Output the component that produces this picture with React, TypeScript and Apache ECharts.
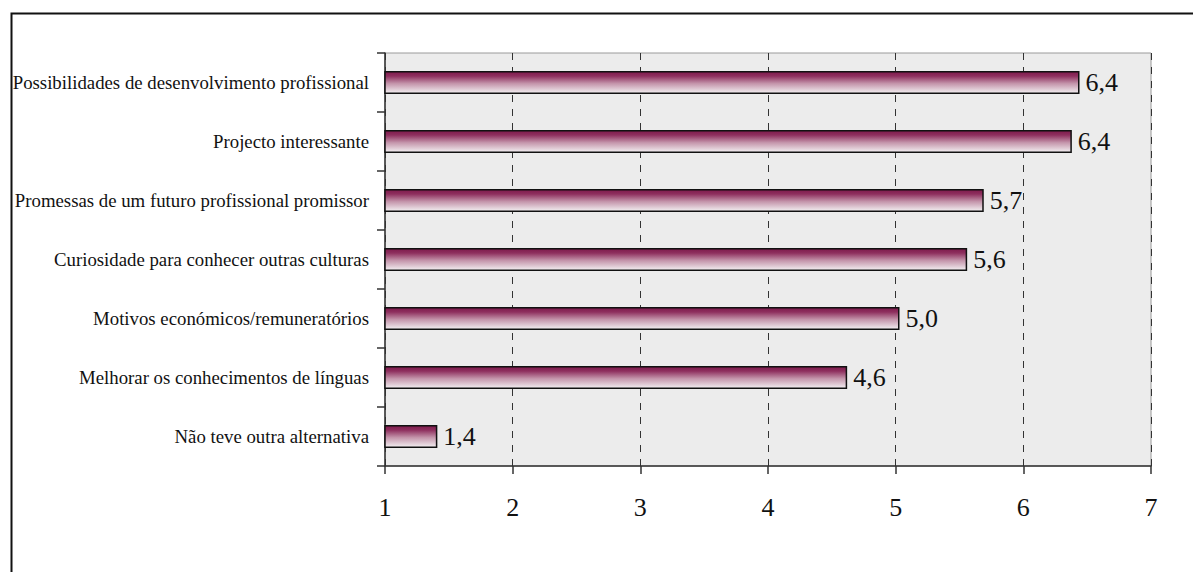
import React, { useEffect, useRef } from "react";
import * as echarts from "echarts";

// Motives for accepting the assignment, mean score on a 1–7 scale
const categories = [
  "Possibilidades de desenvolvimento profissional",
  "Projecto interessante",
  "Promessas de um futuro profissional promissor",
  "Curiosidade para conhecer outras culturas",
  "Motivos económicos/remuneratórios",
  "Melhorar os conhecimentos de línguas",
  "Não teve outra alternativa",
];
const scores = [6.44, 6.38, 5.69, 5.56, 5.03, 4.62, 1.41];
const axisTicks = [1, 2, 3, 4, 5, 6, 7];

const SERIF = "Times New Roman, Liberation Serif, serif";
const fmt = (v: number) => v.toFixed(1).replace(".", ",");

export default function App() {
  const ref = useRef<HTMLDivElement>(null);

  useEffect(() => {
    if (!ref.current) return;
    const chart = echarts.init(ref.current, undefined, { renderer: "svg" });
    chart.setOption({
      animation: false,
      backgroundColor: "#ffffff",
      textStyle: { fontFamily: SERIF },
      graphic: [
        {
          type: "rect",
          left: 9,
          top: 11,
          shape: { x: 0, y: 0, width: 1300, height: 700 },
          style: { fill: "none", stroke: "#111", lineWidth: 2 },
          silent: true,
          z: -10,
        },
      ],
      grid: {
        left: 385,
        top: 53,
        right: 42,
        bottom: 106,
        show: true,
        backgroundColor: "#ececec",
        borderColor: "#9a9a9a",
        borderWidth: 1,
      },
      xAxis: {
        type: "value",
        min: axisTicks[0],
        max: axisTicks[axisTicks.length - 1],
        interval: 1,
        axisLine: { show: true, lineStyle: { color: "#333", width: 1.5 } },
        axisTick: { show: true, length: 8, lineStyle: { color: "#333", width: 1.5 } },
        axisLabel: {
          margin: 28,
          color: "#111",
          fontFamily: SERIF,
          fontSize: 26,
          formatter: (v: number) => String(v),
        },
        splitLine: {
          show: true,
          lineStyle: { color: "#333", width: 1, type: [7, 7] },
        },
      },
      yAxis: {
        type: "category",
        data: categories,
        inverse: true,
        axisLine: { show: true, lineStyle: { color: "#333", width: 1.5 } },
        axisTick: { show: true, length: 8, lineStyle: { color: "#333", width: 1.5 } },
        axisLabel: {
          margin: 16,
          color: "#111",
          fontFamily: SERIF,
          fontSize: 18.8,
        },
        splitLine: { show: false },
      },
      series: [
        {
          type: "bar",
          data: scores,
          barWidth: 23,
          itemStyle: {
            color: new echarts.graphic.LinearGradient(0, 0, 0, 1, [
              { offset: 0, color: "#7e1a4c" },
              { offset: 0.2, color: "#8e2f5e" },
              { offset: 0.55, color: "#c495ab" },
              { offset: 1, color: "#f3f0f2" },
            ]),
            borderColor: "#111",
            borderWidth: 1.5,
          },
          label: {
            show: true,
            position: "right",
            distance: 6,
            color: "#111",
            fontFamily: SERIF,
            fontSize: 26,
            formatter: (p: any) => fmt(p.value),
          },
        },
      ],
    });
    return () => chart.dispose();
  }, []);

  return (
    <div
      ref={ref}
      style={{ position: "absolute", left: 0, top: 0, width: 1193, height: 572 }}
    />
  );
}
